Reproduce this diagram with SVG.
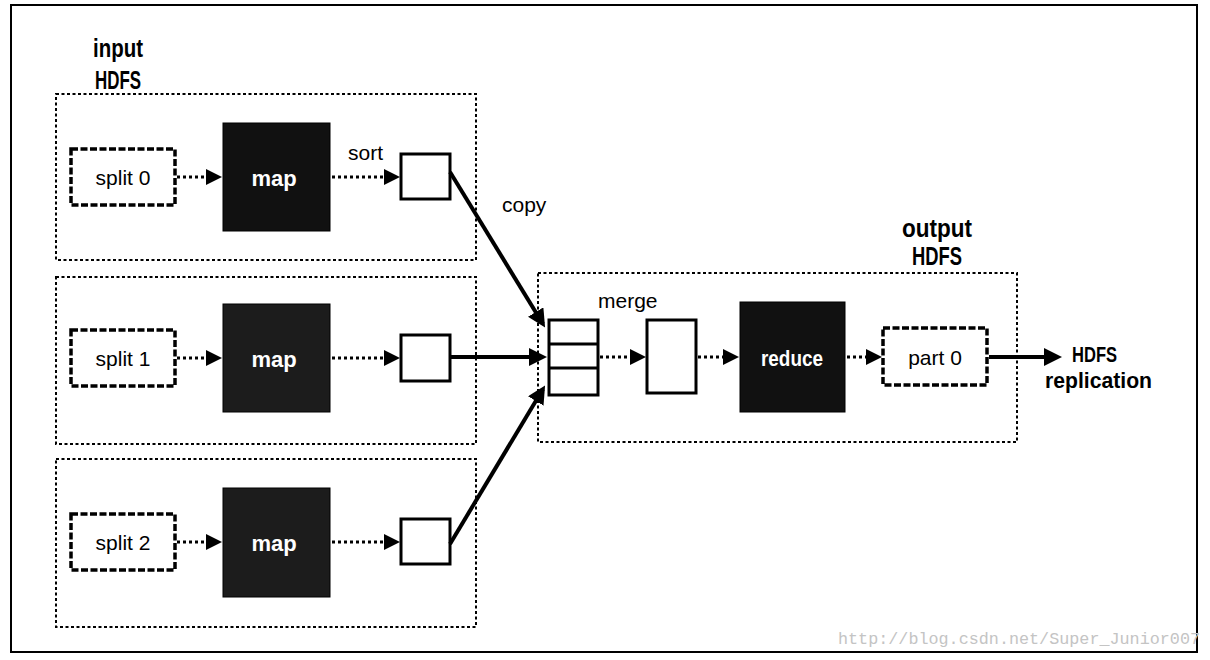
<svg xmlns="http://www.w3.org/2000/svg" width="1210" height="660" viewBox="0 0 1210 660">
  <defs>
    <style>
      .frame { fill: none; stroke: #000; stroke-width: 2; }
      .group { fill: none; stroke: #000; stroke-width: 2; stroke-dasharray: 3 2.5; }
      .file { fill: #fff; stroke: #000; stroke-width: 3.5; stroke-dasharray: 7 2.5; }
      .proc { fill: #111; stroke: #000; stroke-width: 1; }
      .buf { fill: #fff; stroke: #000; stroke-width: 3; }
      .dot { fill: none; stroke: #000; stroke-width: 3; stroke-dasharray: 3 3; }
      .solid { fill: none; stroke: #000; stroke-width: 4; }
      .lbl { font-family: "Liberation Sans", Arial, sans-serif; font-size: 21px; fill: #000; }
      .bold { font-family: "Liberation Sans", Arial, sans-serif; font-size: 25px; font-weight: bold; fill: #000; }
      .bold2 { font-family: "Liberation Sans", Arial, sans-serif; font-size: 22px; font-weight: bold; fill: #000; }
      .wlbl { font-family: "Liberation Sans", Arial, sans-serif; font-size: 22px; font-weight: bold; fill: #fff; text-anchor: middle; }
      .wm { font-family: "Liberation Mono", "Courier New", monospace; font-size: 17px; fill: #c4c4c4; }
    </style>
    <marker id="ah" viewBox="0 0 16 16" refX="12" refY="8" markerWidth="16" markerHeight="16" markerUnits="userSpaceOnUse" orient="auto">
      <path d="M0,0 L16,8 L0,16 z" fill="#000"/>
    </marker>
    <marker id="ahb" viewBox="0 0 18 18" refX="14" refY="9" markerWidth="18" markerHeight="18" markerUnits="userSpaceOnUse" orient="auto">
      <path d="M0,0 L18,9 L0,18 z" fill="#000"/>
    </marker>
  </defs>

  <rect id="frame" class="frame" x="11" y="5" width="1186" height="647"/>

  <g id="input-label">
    <text class="bold" x="93" y="57" textLength="50" lengthAdjust="spacingAndGlyphs">input</text>
    <text class="bold" x="95" y="89" textLength="46" lengthAdjust="spacingAndGlyphs">HDFS</text>
  </g>

  <g id="input-group-0">
    <rect class="group" x="56" y="94" width="420" height="166"/>
  </g>
  <g id="input-group-1">
    <rect class="group" x="56" y="277" width="420" height="167"/>
  </g>
  <g id="input-group-2">
    <rect class="group" x="56" y="459" width="420" height="168"/>
  </g>

  <g id="split0">
    <rect class="file" x="71" y="149" width="104" height="56"/>
    <text class="lbl" x="123" y="185" text-anchor="middle">split 0</text>
  </g>
  <g id="split1">
    <rect class="file" x="71" y="330" width="104" height="56"/>
    <text class="lbl" x="123" y="366" text-anchor="middle">split 1</text>
  </g>
  <g id="split2">
    <rect class="file" x="71" y="514" width="104" height="56"/>
    <text class="lbl" x="123" y="550" text-anchor="middle">split 2</text>
  </g>

  <g id="map0">
    <rect class="proc" x="223" y="123" width="107" height="108"/>
    <text class="wlbl" x="274" y="186">map</text>
  </g>
  <g id="map1">
    <rect class="proc" x="223" y="304" width="107" height="108" style="fill:#1c1c1c"/>
    <text class="wlbl" x="274" y="367">map</text>
  </g>
  <g id="map2">
    <rect class="proc" x="223" y="488" width="107" height="109" style="fill:#1c1c1c"/>
    <text class="wlbl" x="274" y="551">map</text>
  </g>

  <g id="sort-label">
    <text class="lbl" x="348" y="160">sort</text>
  </g>

  <g id="buf0">
    <rect class="buf" x="401" y="154" width="49" height="45"/>
  </g>
  <g id="buf1">
    <rect class="buf" x="401" y="335" width="49" height="46"/>
  </g>
  <g id="buf2">
    <rect class="buf" x="401" y="519" width="49" height="45"/>
  </g>

  <g id="copy-label">
    <text class="lbl" x="502" y="212">copy</text>
  </g>

  <g id="output-label">
    <text class="bold" x="937" y="237" text-anchor="middle" textLength="70" lengthAdjust="spacingAndGlyphs">output</text>
    <text class="bold" x="937" y="265" text-anchor="middle" textLength="50" lengthAdjust="spacingAndGlyphs">HDFS</text>
  </g>

  <g id="output-group">
    <rect class="group" x="538" y="273" width="479" height="169"/>
  </g>

  <g id="merge-label">
    <text class="lbl" x="598" y="308">merge</text>
  </g>

  <g id="merge-stack">
    <rect class="buf" x="549" y="320" width="49" height="75"/>
    <line x1="549" y1="344" x2="598" y2="344" stroke="#000" stroke-width="3"/>
    <line x1="549" y1="368" x2="598" y2="368" stroke="#000" stroke-width="3"/>
  </g>

  <g id="merged">
    <rect class="buf" x="647" y="320" width="49" height="73"/>
  </g>

  <g id="reduce">
    <rect class="proc" x="740" y="302" width="105" height="110"/>
    <text class="wlbl" x="792" y="366" textLength="62" lengthAdjust="spacingAndGlyphs">reduce</text>
  </g>

  <g id="part0">
    <rect class="file" x="883" y="328" width="104" height="57"/>
    <text class="lbl" x="935" y="365" text-anchor="middle">part 0</text>
  </g>

  <g id="replication-label">
    <text class="bold2" x="1072" y="362" textLength="45" lengthAdjust="spacingAndGlyphs">HDFS</text>
    <text class="bold2" x="1045" y="388" textLength="107" lengthAdjust="spacingAndGlyphs">replication</text>
  </g>

  <g id="connectors">
    <line class="dot" x1="177" y1="177" x2="218" y2="177" marker-end="url(#ah)"/>
    <line class="dot" x1="332" y1="177" x2="396" y2="177" marker-end="url(#ah)"/>
    <line class="dot" x1="177" y1="358" x2="218" y2="358" marker-end="url(#ah)"/>
    <line class="dot" x1="332" y1="358" x2="396" y2="358" marker-end="url(#ah)"/>
    <line class="dot" x1="177" y1="542" x2="218" y2="542" marker-end="url(#ah)"/>
    <line class="dot" x1="332" y1="542" x2="396" y2="542" marker-end="url(#ah)"/>

    <line class="solid" x1="450" y1="172" x2="543" y2="324" marker-end="url(#ahb)"/>
    <line class="solid" x1="450" y1="357" x2="543" y2="357" marker-end="url(#ahb)"/>
    <line class="solid" x1="450" y1="544" x2="543" y2="389" marker-end="url(#ahb)"/>

    <line class="dot" x1="600" y1="357" x2="642" y2="357" marker-end="url(#ah)"/>
    <line class="dot" x1="698" y1="357" x2="735" y2="357" marker-end="url(#ah)"/>
    <line class="dot" x1="847" y1="357" x2="878" y2="357" marker-end="url(#ah)"/>
    <line class="solid" x1="989" y1="357" x2="1058" y2="357" marker-end="url(#ahb)"/>
  </g>

  <text class="wm" x="838" y="644" textLength="362" lengthAdjust="spacingAndGlyphs">http://blog.csdn.net/Super_Junior007</text>
</svg>
